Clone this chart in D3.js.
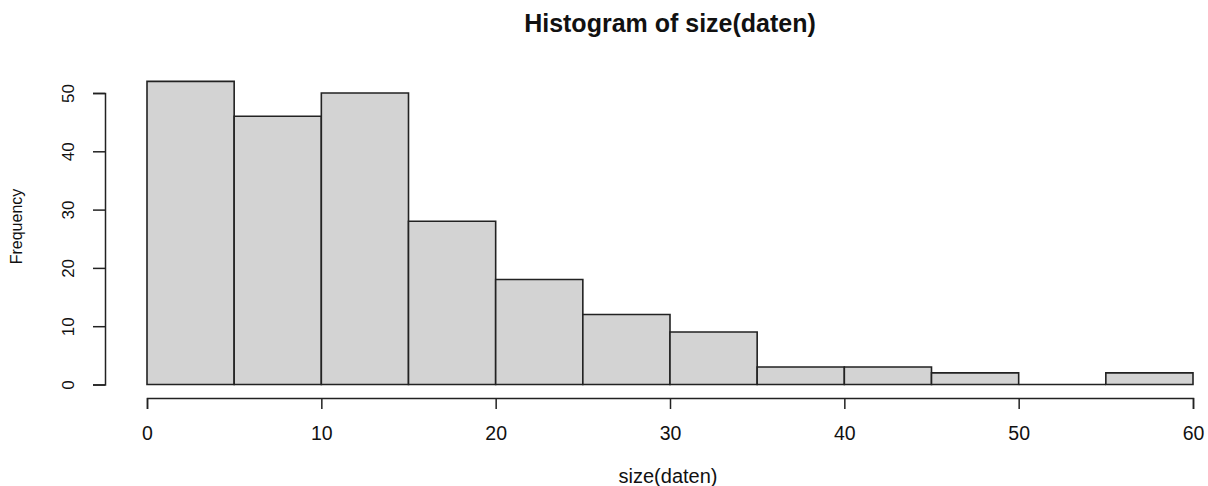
<!DOCTYPE html>
<html><head><meta charset="utf-8">
<script src="https://cdn.jsdelivr.net/npm/d3@7"></script>
<style>body{margin:0;background:#fff}text{font-family:"Liberation Sans",Arial,sans-serif}</style>
</head><body><svg id="c" width="1208" height="486"></svg>
<script>
const binStarts = [0,5,10,15,20,25,30,35,40,45,50,55];
const binWidth = 5;
const counts = [52,46,50,28,18,12,9,3,3,2,0,2];
const xTicks = [0,10,20,30,40,50,60];
const yTicks = [0,10,20,30,40,50];

const svg = d3.select("#c");
const x = d3.scaleLinear().domain([0,60]).range([147,1193]);
const y = d3.scaleLinear().domain([0,50]).range([384.5,93]);

svg.append("g").selectAll("path").data(binStarts).join("path")
  .attr("d", (d,i)=>{
    const x0 = x(d), x1 = x(d+binWidth), y0 = y(0), y1 = y(counts[i]);
    return `M${x0},${y0}V${y1}H${x1}V${y0}Z`;
  })
  .attr("fill","#d3d3d3").attr("stroke","#222").attr("stroke-width",1.6)
  .attr("stroke-linejoin","miter");

const xa = svg.append("g").attr("transform","translate(0,398)")
  .call(d3.axisBottom(x).tickValues(xTicks).tickSize(11).tickFormat(d3.format("d")));
const ya = svg.append("g").attr("transform","translate(105,0)")
  .call(d3.axisLeft(y).tickValues(yTicks).tickSize(12).tickFormat(d3.format("d")));
[xa,ya].forEach(a=>{
  a.select(".domain").attr("stroke","#222").attr("stroke-width",1.5);
  a.selectAll(".tick line").attr("stroke","#222").attr("stroke-width",1.5);
  a.selectAll("text").attr("fill","#111").attr("font-family","Liberation Sans, Arial, sans-serif");
});
xa.selectAll(".tick text").attr("font-size",19.5).attr("y",42).attr("dy",null);
ya.selectAll(".tick text").attr("font-size",17).attr("x",0).attr("dy",null)
  .attr("text-anchor","middle").attr("transform","translate(-31.5,0) rotate(-90)");

svg.append("text").attr("x",670).attr("y",32).attr("text-anchor","middle")
  .attr("font-size",25).attr("font-weight","bold").attr("fill","#111").text("Histogram of size(daten)");
svg.append("text").attr("x",668).attr("y",483).attr("text-anchor","middle")
  .attr("font-size",20).attr("fill","#111").text("size(daten)");
svg.append("text").attr("transform","translate(22,226.5) rotate(-90)").attr("text-anchor","middle")
  .attr("font-size",16).attr("fill","#111").text("Frequency");
</script></body></html>
